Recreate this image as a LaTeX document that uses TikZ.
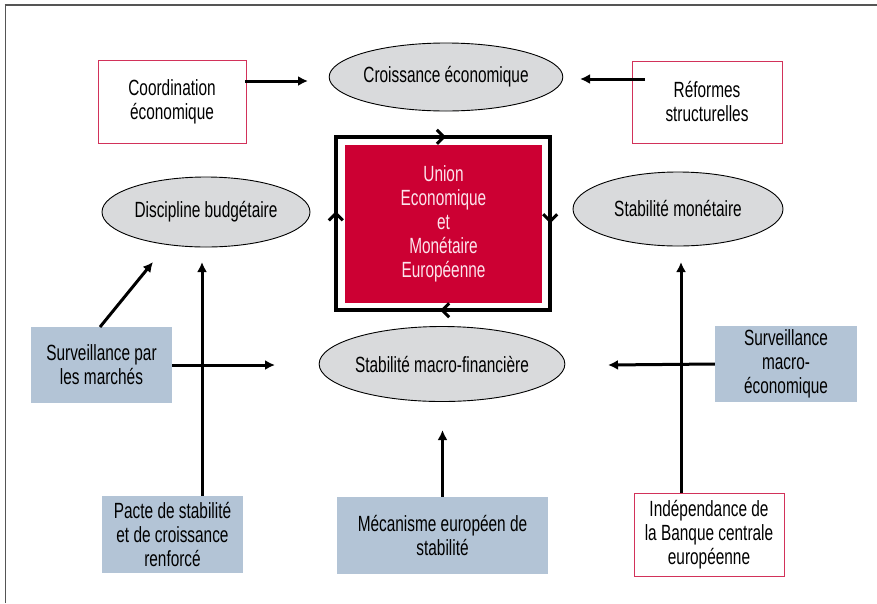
\documentclass[tikz,border=0pt]{standalone}
\usepackage{fontspec}
\setmainfont[FakeStretch=0.7]{Liberation Sans}
\usetikzlibrary{shapes.geometric, arrows.meta, positioning, decorations.markings}

\definecolor{rougeuem}{RGB}{204,0,51}
\definecolor{rougebord}{RGB}{210,50,90}
\definecolor{bleugris}{RGB}{179,196,214}
\definecolor{grisbulle}{RGB}{217,218,220}
\definecolor{griscadre}{RGB}{85,85,85}
\definecolor{roseclair}{RGB}{252,228,236}

\newcommand{\chevron}{\draw[line width=3pt, line join=miter] (-6pt,7pt) -- (1pt,0pt) -- (-6pt,-7pt);}

\tikzset{
	bulle/.style={ellipse, draw, line width=0.9pt, fill=grisbulle, inner sep=0pt},
	cadre/.style={rectangle, draw=rougebord, line width=1pt, fill=white, align=center},
	bloc/.style={rectangle, fill=bleugris, align=center},
	fleche/.style={-{Latex[length=10pt,width=10pt]}, line width=3pt},
	tour/.style={line width=3.5pt, postaction={decorate}},
}

\begin{document}
\begin{tikzpicture}[x=1pt, y=1pt, font=\fontsize{22}{24}\selectfont]
	\useasboundingbox (0,0) rectangle (877,-603);
	\draw[griscadre, line width=1pt] (5.5,-603) -- (5.5,-5);
	\draw[griscadre, line width=2.5pt] (4.5,-5) -- (877,-5);

	% centre
	\node[fill=rougeuem, text=roseclair, align=center, minimum width=197pt, minimum height=158pt] (uem) at (443.5,-224)
		{Union\\Economique\\et\\Monétaire\\Européenne};
	\coordinate (fnw) at ([shift={(-9,8)}]uem.north west);
	\coordinate (fne) at ([shift={(8,8)}]uem.north east);
	\coordinate (fse) at ([shift={(8,-7)}]uem.south east);
	\coordinate (fsw) at ([shift={(-9,-7)}]uem.south west);
	\draw[tour, decoration={markings,
		mark=at position 0.138 with {\chevron},
		mark=at position 0.384 with {\chevron},
		mark=at position 0.638 with {\chevron},
		mark=at position 0.900 with {\chevron}}]
		(fnw) -- (fne) -- (fse) -- (fsw) -- cycle;

	% objectifs
	\node[bulle, minimum width=222pt, minimum height=68pt] (croiss) at (446,-77) {Croissance économique};
	\node[bulle, minimum width=208pt, minimum height=70pt] (disc) at (206,-212) {Discipline budgétaire};
	\node[bulle, minimum width=210pt, minimum height=74pt] (monet) at (678,-209) {Stabilité monétaire};
	\node[bulle, minimum width=210pt, minimum height=75pt] (macro) at (442,-364) {Stabilité macro-financière};

	% instruments
	\node[cadre, minimum width=148pt, minimum height=83pt] (coord) at (172,-101.5) {Coordination\\économique};
	\node[cadre, minimum width=150pt, minimum height=82pt] (reform) at (707,-102) {Réformes\\structurelles};
	\node[bloc, minimum width=141pt, minimum height=76pt] (marches) at (101.5,-365) {Surveillance par\\les marchés};
	\node[bloc, minimum width=142pt, minimum height=76pt] (survmacro) at (786,-364) {Surveillance\\macro-\\économique};
	\node[bloc, minimum width=141pt, minimum height=77pt] (pacte) at (172.5,-534.5) {Pacte de stabilité\\et de croissance\\renforcé};
	\node[bloc, minimum width=211pt, minimum height=77pt] (mes) at (442.5,-535.5) {Mécanisme européen de\\stabilité};
	\node[cadre, minimum width=150pt, minimum height=83pt] (indep) at (709,-534.5) {Indépendance de\\la Banque centrale\\européenne};

	% bouts des fleches
	\coordinate (coord-d) at (245,-81);
	\coordinate (croiss-g) at (308,-81);
	\coordinate (reform-g) at (645,-79);
	\coordinate (croiss-d) at (580,-79);
	\coordinate (marches-n) at (100,-327);
	\coordinate (disc-b) at (153,-262);
	\coordinate (macro-g) at (275,-365);
	\coordinate (macro-d) at (608,-365);
	\coordinate (macro-b) at (442.5,-430);
	\coordinate (pacte-n) at (202,-496);
	\coordinate (disc-bd) at (202,-262);
	\coordinate (indep-n) at (681,-493);
	\coordinate (monet-b) at (681,-262);

	\foreach \from/\to in {coord-d/croiss-g, reform-g/croiss-d, marches-n/disc-b, marches.east/macro-g,
		survmacro.west/macro-d, mes.north/macro-b, pacte-n/disc-bd, indep-n/monet-b}
		\draw[fleche] (\from) -- (\to);
\end{tikzpicture}
\end{document}
